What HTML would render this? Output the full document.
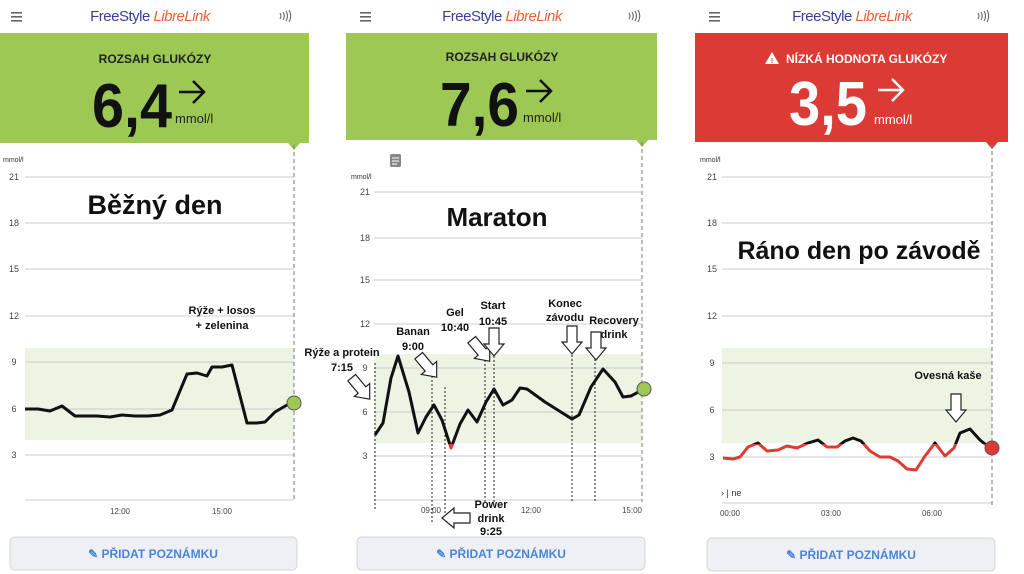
<!DOCTYPE html>
<html><head><meta charset="utf-8"><style>
html,body{margin:0;padding:0;background:#fff;}
svg{display:block;font-family:"Liberation Sans",sans-serif;}
</style></head><body>
<svg width="1024" height="574" viewBox="0 0 1024 574" xmlns="http://www.w3.org/2000/svg">
<defs>
<clipPath id="above"><rect x="0" y="0" width="1024" height="444"/></clipPath>
<clipPath id="below"><rect x="0" y="444" width="1024" height="200"/></clipPath>
<g id="ham"><rect x="0" y="0" width="11" height="1.6" fill="#666"/><rect x="0" y="4" width="11" height="1.6" fill="#666"/><rect x="0" y="8" width="11" height="1.6" fill="#666"/></g>
<g id="nfc" fill="none" stroke="#666" stroke-width="1.1"><path d="M0 -3 Q2 0 0 3"/><path d="M3 -4 Q5.5 0 3 4"/><path d="M6 -5 Q9 0 6 5"/><path d="M9 -6 Q12.5 0 9 6"/></g>
<path id="arD" d="M-5 -16 L5 -16 L5 0 L10 0 L0 12 L-10 0 L-5 0 Z" fill="#fff" stroke="#222" stroke-width="1.2"/>
</defs>

<!-- ============ PANEL 1 ============ -->
<use href="#ham" x="11" y="12"/>
<text x="150" y="21" text-anchor="middle" font-size="15" letter-spacing="-0.5"><tspan fill="#3c3f9a">FreeStyle</tspan><tspan fill="#e8603c" font-style="italic"> LibreLink</tspan></text>
<use href="#nfc" x="280" y="16"/>
<rect x="0" y="33" width="309" height="110" fill="#9dc853"/>
<path d="M288 143 L294 150 L300 143 Z" fill="#9dc853"/>
<text x="155" y="63" text-anchor="middle" font-size="12" font-weight="bold" fill="#222">ROZSAH GLUKÓZY</text>
<text x="92" y="127" font-size="62" font-weight="bold" fill="#111" textLength="80" lengthAdjust="spacingAndGlyphs">6,4</text>
<path d="M179 92 L203 92 M193 81 L204 92 L193 103" stroke="#111" stroke-width="2.5" fill="none"/>
<text x="175" y="123" font-size="13" fill="#222">mmol/l</text>
<text x="3" y="162" font-size="7" fill="#333">mmol/l</text>
<g stroke="#ccc" stroke-width="1">
<line x1="25" y1="177" x2="294" y2="177"/><line x1="25" y1="223" x2="294" y2="223"/><line x1="25" y1="269" x2="294" y2="269"/><line x1="25" y1="316" x2="294" y2="316"/>
</g>
<rect x="25" y="348" width="269" height="92" fill="#eef4e4"/>
<g stroke="#ccc" stroke-width="1">
<line x1="25" y1="362" x2="294" y2="362"/><line x1="25" y1="409" x2="294" y2="409"/><line x1="25" y1="455" x2="294" y2="455"/><line x1="25" y1="500" x2="294" y2="500"/>
</g>
<g font-size="9" fill="#444" text-anchor="middle"><text x="14" y="180">21</text><text x="14" y="226">18</text><text x="14" y="272">15</text><text x="14" y="319">12</text><text x="14" y="365">9</text><text x="14" y="412">6</text><text x="14" y="458">3</text>
<text x="120" y="514" font-size="8">12:00</text><text x="222" y="514" font-size="8">15:00</text></g>
<line x1="294" y1="145" x2="294" y2="502" stroke="#777" stroke-dasharray="4,3"/>
<text x="155" y="214" text-anchor="middle" font-size="27" font-weight="bold" fill="#111">Běžný den</text>
<text x="222" y="314" text-anchor="middle" font-size="11" font-weight="bold" fill="#111">Rýže + losos</text>
<text x="222" y="329" text-anchor="middle" font-size="11" font-weight="bold" fill="#111">+ zelenina</text>
<polyline fill="none" stroke="#111" stroke-width="3" stroke-linejoin="round" points="25,409 38,409 50,411 62,406 75,416 85,416 97,416 110,417 122,415 135,416 148,416 160,415 172,410 187,374 197,373 207,376 212,367 222,367 232,365 247,423 257,423 265,422 275,412 287,405 294,403"/>
<circle cx="294" cy="403" r="7" fill="#9dc853" stroke="#555" stroke-width="1"/>
<rect x="10" y="537" width="287" height="33" rx="5" fill="#eef0f3" stroke="#d3d6da"/>
<text x="153" y="558" text-anchor="middle" font-size="12" font-weight="bold" fill="#4a85d8">✎ PŘIDAT POZNÁMKU</text>

<!-- ============ PANEL 2 ============ -->
<use href="#ham" x="360" y="12"/>
<text x="502" y="21" text-anchor="middle" font-size="15" letter-spacing="-0.5"><tspan fill="#3c3f9a">FreeStyle</tspan><tspan fill="#e8603c" font-style="italic"> LibreLink</tspan></text>
<use href="#nfc" x="629" y="16"/>
<rect x="346" y="33" width="311" height="107" fill="#9dc853"/>
<path d="M636 140 L642 147 L648 140 Z" fill="#9dc853"/>
<text x="502" y="61" text-anchor="middle" font-size="12" font-weight="bold" fill="#222">ROZSAH GLUKÓZY</text>
<text x="440" y="126" font-size="62" font-weight="bold" fill="#111" textLength="79" lengthAdjust="spacingAndGlyphs">7,6</text>
<path d="M526 91 L550 91 M540 80 L551 91 L540 102" stroke="#111" stroke-width="2.5" fill="none"/>
<text x="523" y="122" font-size="13" fill="#222">mmol/l</text>
<rect x="390" y="154" width="11" height="13" rx="1.5" fill="#888"/>
<g stroke="#fff" stroke-width="1"><line x1="392" y1="158" x2="399" y2="158"/><line x1="392" y1="161" x2="399" y2="161"/><line x1="392" y1="164" x2="397" y2="164"/></g>
<text x="351" y="179" font-size="7" fill="#333">mmol/l</text>
<g stroke="#ccc" stroke-width="1">
<line x1="374" y1="192" x2="642" y2="192"/><line x1="374" y1="238" x2="642" y2="238"/><line x1="374" y1="280" x2="642" y2="280"/><line x1="374" y1="324" x2="642" y2="324"/>
</g>
<rect x="374" y="354" width="268" height="89" fill="#eef4e4"/>
<g stroke="#ccc" stroke-width="1">
<line x1="374" y1="368" x2="642" y2="368"/><line x1="374" y1="412" x2="642" y2="412"/><line x1="374" y1="456" x2="642" y2="456"/><line x1="374" y1="500" x2="642" y2="500"/>
</g>
<g font-size="9" fill="#444" text-anchor="middle"><text x="365" y="195">21</text><text x="365" y="241">18</text><text x="365" y="283">15</text><text x="365" y="327">12</text><text x="365" y="371">9</text><text x="365" y="415">6</text><text x="365" y="459">3</text>
<text x="431" y="513" font-size="8">09:00</text><text x="531" y="513" font-size="8">12:00</text><text x="632" y="513" font-size="8">15:00</text></g>
<line x1="642" y1="142" x2="642" y2="502" stroke="#777" stroke-dasharray="4,3"/>
<g stroke="#222" stroke-width="1" stroke-dasharray="2,2">
<line x1="375" y1="363" x2="375" y2="510"/><line x1="432" y1="368" x2="432" y2="522"/><line x1="445" y1="387" x2="445" y2="522"/><line x1="485" y1="356" x2="485" y2="502"/><line x1="494" y1="356" x2="494" y2="502"/><line x1="572" y1="355" x2="572" y2="503"/><line x1="595" y1="355" x2="595" y2="503"/>
</g>
<text x="497" y="226" text-anchor="middle" font-size="26" font-weight="bold" fill="#111">Maraton</text>
<g font-size="11" font-weight="bold" fill="#111" text-anchor="middle">
<text x="342" y="356">Rýže a protein</text><text x="342" y="371">7:15</text>
<text x="413" y="335">Banan</text><text x="413" y="350">9:00</text>
<text x="455" y="316">Gel</text><text x="455" y="331">10:40</text>
<text x="493" y="309">Start</text><text x="493" y="325">10:45</text>
<text x="565" y="307">Konec</text><text x="565" y="321">závodu</text>
<text x="614" y="324">Recovery</text><text x="614" y="338">drink</text>
<text x="491" y="508">Power</text><text x="491" y="522">drink</text><text x="491" y="535">9:25</text>
</g>
<use href="#arD" transform="translate(362,390) rotate(-40)"/>
<use href="#arD" transform="translate(429,368) rotate(-40)"/>
<use href="#arD" transform="translate(482,352) rotate(-40)"/>
<use href="#arD" transform="translate(494,344)"/>
<use href="#arD" transform="translate(572,342)"/>
<use href="#arD" transform="translate(596,348)"/>
<use href="#arD" transform="translate(454,518) rotate(90)"/>
<g fill="none" stroke-width="3" stroke-linejoin="round">
<polyline clip-path="url(#above)" stroke="#111" points="375,435 383,423 391,378 398,356 409,392 418,433 426,417 434,405 442,420 451,448 460,424 468,410 477,422 486,402 494,389 503,405 512,400 520,388 527,389 545,402 572,419 579,415 591,387 603,369 615,382 623,397 631,396 642,390"/>
<polyline clip-path="url(#below)" stroke="#e03a33" points="375,435 383,423 391,378 398,356 409,392 418,433 426,417 434,405 442,420 451,448 460,424 468,410 477,422 486,402 494,389 503,405 512,400 520,388 527,389 545,402 572,419 579,415 591,387 603,369 615,382 623,397 631,396 642,390"/>
</g>
<circle cx="644" cy="389" r="7" fill="#9dc853" stroke="#555" stroke-width="1"/>
<rect x="357" y="537" width="288" height="33" rx="5" fill="#eef0f3" stroke="#d3d6da"/>
<text x="501" y="558" text-anchor="middle" font-size="12" font-weight="bold" fill="#4a85d8">✎ PŘIDAT POZNÁMKU</text>

<!-- ============ PANEL 3 ============ -->
<use href="#ham" x="709" y="12"/>
<text x="852" y="21" text-anchor="middle" font-size="15" letter-spacing="-0.5"><tspan fill="#3c3f9a">FreeStyle</tspan><tspan fill="#e8603c" font-style="italic"> LibreLink</tspan></text>
<use href="#nfc" x="978" y="16"/>
<rect x="695" y="33" width="313" height="109" fill="#dc3a34"/>
<path d="M986 142 L992 149 L998 142 Z" fill="#dc3a34"/>
<path d="M772 52 L779 64 L765 64 Z" fill="#fff"/>
<text x="772" y="63" text-anchor="middle" font-size="7" font-weight="bold" fill="#dc3a34">!</text>
<text x="786" y="63" font-size="12" font-weight="bold" fill="#fff">NÍZKÁ HODNOTA GLUKÓZY</text>
<text x="789" y="125" font-size="62" font-weight="bold" fill="#fff" textLength="78" lengthAdjust="spacingAndGlyphs">3,5</text>
<path d="M878 90 L902 90 M892 79 L903 90 L892 101" stroke="#fff" stroke-width="2.5" fill="none"/>
<text x="874" y="124" font-size="13" fill="#fff">mmol/l</text>
<text x="700" y="162" font-size="7" fill="#333">mmol/l</text>
<g stroke="#ccc" stroke-width="1">
<line x1="722" y1="177" x2="992" y2="177"/><line x1="722" y1="223" x2="992" y2="223"/><line x1="722" y1="269" x2="992" y2="269"/><line x1="722" y1="316" x2="992" y2="316"/>
</g>
<rect x="722" y="348" width="270" height="95" fill="#eef4e4"/>
<g stroke="#ccc" stroke-width="1">
<line x1="722" y1="363" x2="992" y2="363"/><line x1="722" y1="410" x2="992" y2="410"/><line x1="722" y1="457" x2="992" y2="457"/><line x1="722" y1="503" x2="992" y2="503"/>
</g>
<g font-size="9" fill="#444" text-anchor="middle"><text x="712" y="180">21</text><text x="712" y="226">18</text><text x="712" y="272">15</text><text x="712" y="319">12</text><text x="712" y="366">9</text><text x="712" y="413">6</text><text x="712" y="460">3</text>
<text x="730" y="516" font-size="8">00:00</text><text x="831" y="516" font-size="8">03:00</text><text x="932" y="516" font-size="8">06:00</text></g>
<text x="721" y="496" font-size="9" fill="#333">› | ne</text>
<line x1="992" y1="144" x2="992" y2="505" stroke="#777" stroke-dasharray="4,3"/>
<text x="859" y="259" text-anchor="middle" font-size="25" font-weight="bold" fill="#111">Ráno den po závodě</text>
<text x="948" y="379" text-anchor="middle" font-size="11" font-weight="bold" fill="#111">Ovesná kaše</text>
<use href="#arD" transform="translate(956,410)"/>
<g fill="none" stroke-width="3" stroke-linejoin="round">
<polyline clip-path="url(#below)" stroke="#e03a33" points="723,458 733,459 740,457 748,447 758,443 767,451 778,450 787,446 797,448 808,443 818,440 827,447 837,447 845,441 853,438 861,441 870,451 880,457 890,457 898,461 907,469 916,470 925,456 935,443 945,456 954,448 960,433 970,429 980,440 990,448 992,448"/>
<polyline clip-path="url(#above)" stroke="#111" points="723,458 733,459 740,457 748,447 758,443 767,451 778,450 787,446 797,448 808,443 818,440 827,447 837,447 845,441 853,438 861,441 870,451 880,457 890,457 898,461 907,469 916,470 925,456 935,443 945,456 954,448 960,433 970,429 980,440 990,448 992,448"/>
</g>
<circle cx="992" cy="448" r="7" fill="#dc3a34" stroke="#555" stroke-width="1"/>
<rect x="707" y="538" width="288" height="33" rx="5" fill="#eef0f3" stroke="#d3d6da"/>
<text x="851" y="559" text-anchor="middle" font-size="12" font-weight="bold" fill="#4a85d8">✎ PŘIDAT POZNÁMKU</text>
</svg>
</body></html>
